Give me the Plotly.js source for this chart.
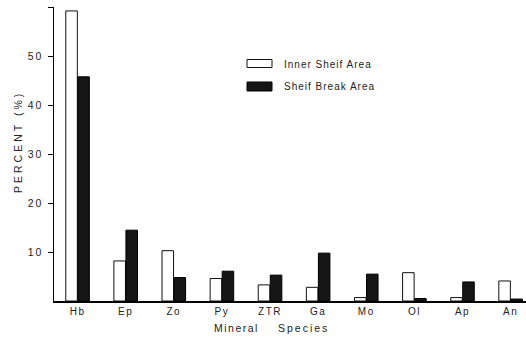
<!DOCTYPE html>
<html>
<head>
<meta charset="utf-8">
<script src="https://cdn.plot.ly/plotly-3.0.1.min.js"></script>
<style>html,body{margin:0;padding:0;background:#fff;}#chart{width:526px;height:338px;}</style>
</head>
<body>
<div id="chart"></div>
<script>
var categories = ["Hb", "Ep", "Zo", "Py", "ZTR", "Ga", "Mo", "Ol", "Ap", "An"];
var innerShelf = [59.4, 8.2, 10.3, 4.6, 3.3, 2.8, 0.7, 5.8, 0.7, 4.1];
var shelfBreak = [45.9, 14.5, 4.8, 6.1, 5.3, 9.8, 5.5, 0.5, 3.9, 0.4];
var seriesNames = ["Inner Sheif Area", "Sheif Break Area"];
var yTickVals = [10, 20, 30, 40, 50, 60];
var yTickText = ["10", "20", "30", "40", "50", ""];
var xTitleWords = ["Mineral", "Species"];
var yTitle = "PERCENT (%)";

var FONT = "Liberation Sans, Arial, sans-serif";
var L = 54, T = 7, W = 472, H = 294;
function px(x){ return (x - L) / W; }
function py(y){ return (T + H - y) / H; }
function spaced(s, n){ return '<span style="letter-spacing:' + n + 'px">' + s + '</span>'; }

var traces = [
  {type: "bar", x: categories, y: innerShelf, name: seriesNames[0],
   marker: {color: "#ffffff", line: {color: "#111", width: 1}}},
  {type: "bar", x: categories, y: shelfBreak, name: seriesNames[1],
   marker: {color: "#161616", line: {color: "#000", width: 1}}}
];

var layout = {
  width: 526, height: 338,
  margin: {l: L, r: 0, t: T, b: 338 - T - H},
  paper_bgcolor: "#fff", plot_bgcolor: "#fff",
  showlegend: false,
  barmode: "group", bargap: 0.5, bargroupgap: 0.04,
  font: {family: FONT, size: 10, color: "#222"},
  xaxis: {
    range: [-0.49, 9.32], showgrid: false, zeroline: false,
    showline: true, linecolor: "#000", linewidth: 1.5,
    ticks: "", tickfont: {family: FONT, size: 10, color: "#222"},
    tickvals: categories, ticktext: categories.map(function(c){ return spaced(c, 1.5); }),
    fixedrange: true
  },
  yaxis: {
    range: [0, 60.2], showgrid: false, zeroline: false,
    showline: true, linecolor: "#000", linewidth: 1.5,
    ticks: "outside", ticklen: 5, tickcolor: "#000", tickwidth: 1,
    tickvals: yTickVals, ticktext: yTickText.map(function(t){ return spaced(t, 2); }), ticklabelstandoff: 2,
    tickfont: {family: FONT, size: 10.5, color: "#222"},
    fixedrange: true
  },
  shapes: [
    {type: "rect", xref: "paper", yref: "paper", x0: px(247), x1: px(272), y0: py(67.5), y1: py(59.5),
     line: {color: "#111", width: 1}, fillcolor: "#fff"},
    {type: "rect", xref: "paper", yref: "paper", x0: px(247), x1: px(272), y0: py(91), y1: py(82),
     line: {color: "#000", width: 1}, fillcolor: "#161616"}
  ],
  annotations: [
    {xref: "paper", yref: "paper", x: px(282), y: py(64.5), xanchor: "left", yanchor: "middle",
     text: spaced(seriesNames[0], 1), showarrow: false, font: {family: FONT, size: 10, color: "#222"}},
    {xref: "paper", yref: "paper", x: px(282), y: py(86.5), xanchor: "left", yanchor: "middle",
     text: spaced(seriesNames[1], 1), showarrow: false, font: {family: FONT, size: 10, color: "#222"}},
    {xref: "paper", yref: "paper", x: px(236), y: py(328), xanchor: "center", yanchor: "middle",
     text: spaced(xTitleWords[0], 1.5), showarrow: false, font: {family: FONT, size: 10.5, color: "#222"}},
    {xref: "paper", yref: "paper", x: px(303), y: py(328), xanchor: "center", yanchor: "middle",
     text: spaced(xTitleWords[1], 2), showarrow: false, font: {family: FONT, size: 10.5, color: "#222"}},
    {xref: "paper", yref: "paper", x: px(18), y: py(142), xanchor: "center", yanchor: "middle",
     text: spaced(yTitle, 3), textangle: -90, showarrow: false, font: {family: FONT, size: 10.5, color: "#222"}}
  ]
};

Plotly.newPlot("chart", traces, layout, {staticPlot: true, displayModeBar: false});
</script>
</body>
</html>
